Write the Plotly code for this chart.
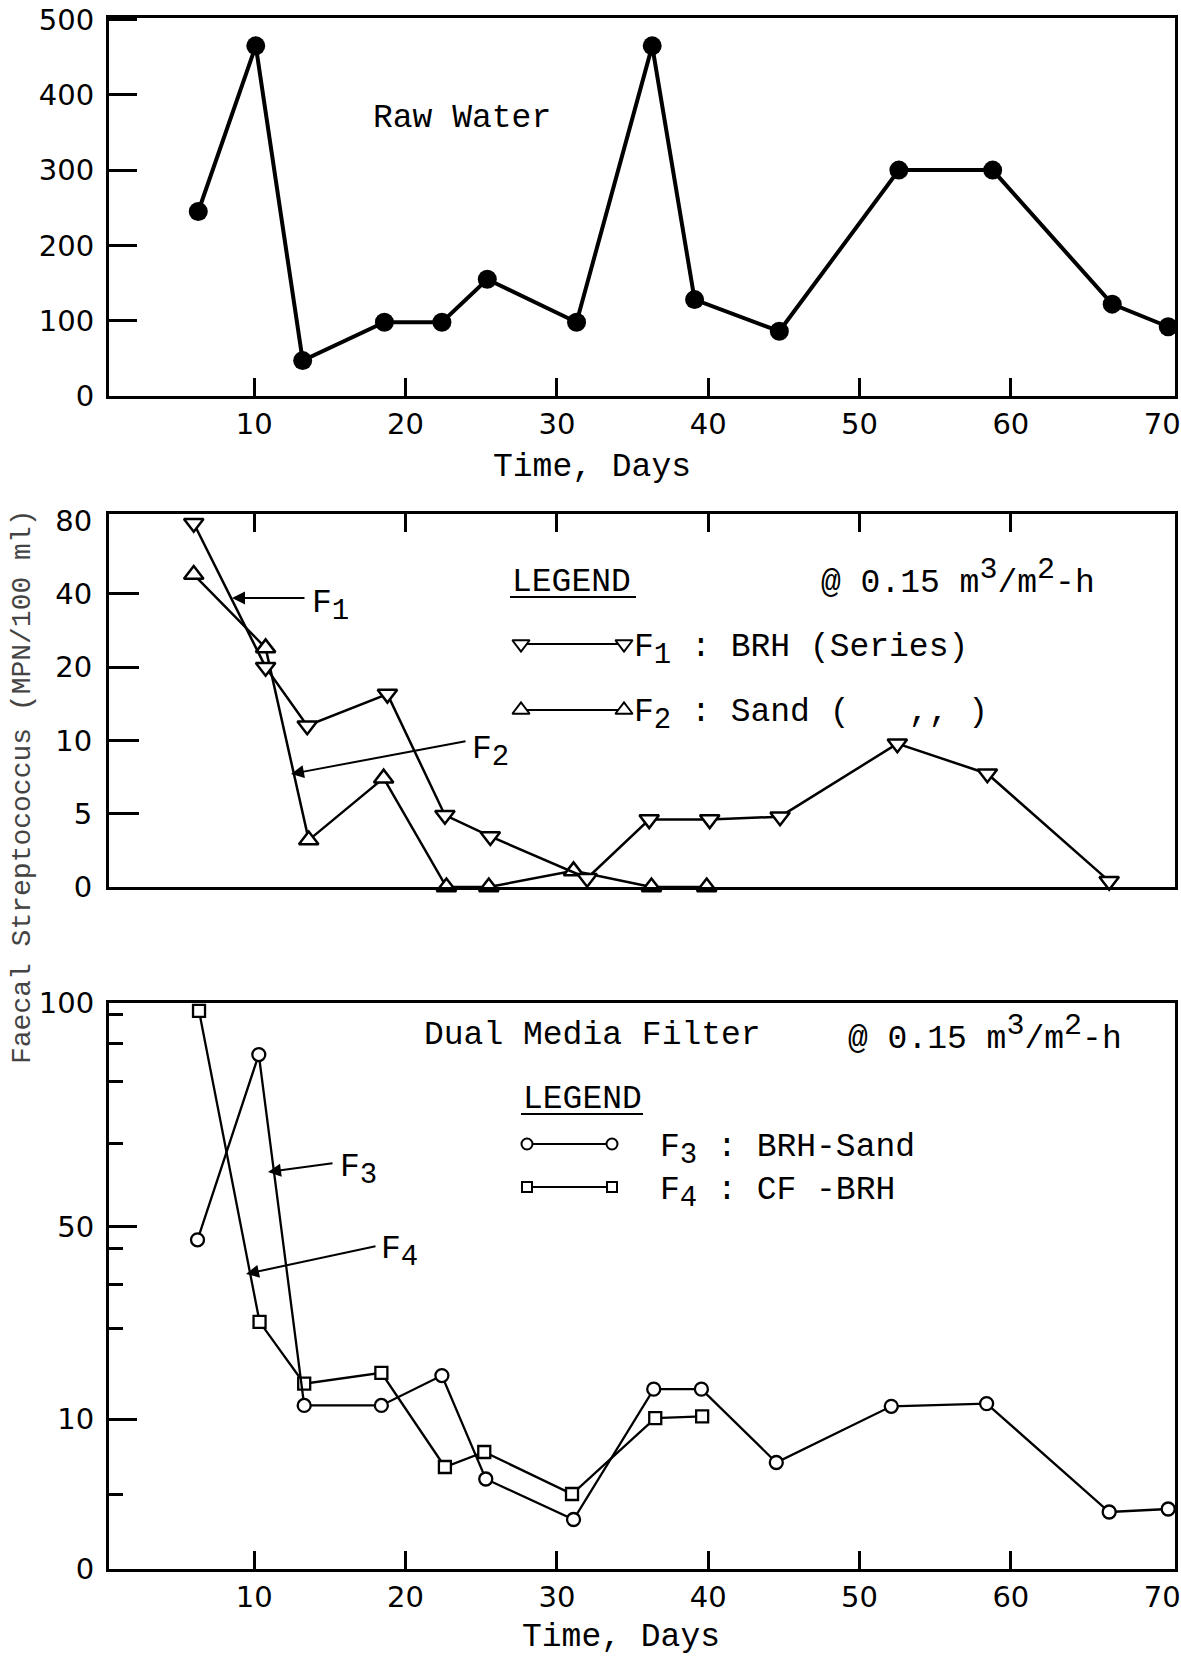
import numpy as np
import plotly.graph_objects as go

# figure fills the whole 1181 x 1657 page (body margin removed by a post script)
PAGE_W, PAGE_H = 1181, 1657
OFF = 0
FW, FH = PAGE_W, PAGE_H

# ---------------- data ----------------
RAW_DAYS = [6.3, 10.1, 13.2, 18.6, 22.4, 25.4, 31.3, 36.3, 39.1, 44.7, 52.6, 58.8, 66.7, 70.4]
RAW_MPN = [245, 465, 47, 98, 98, 155, 98, 465, 128, 86, 300, 300, 122, 92]

F1_DAYS = [6.0, 10.75, 13.5, 18.8, 22.6, 25.6, 32.0, 36.1, 40.1, 44.75, 52.5, 58.45, 66.5]
F1_MPN = [78, 20, 11.5, 15.5, 4.9, 3.45, 0.6, 4.6, 4.6, 4.8, 9.7, 7.3, 0.4]
F2_DAYS = [6.0, 10.75, 13.6, 18.55, 22.7, 25.5, 31.1, 36.25, 39.9]
F2_MPN = [48, 24, 3.2, 7.0, 0, 0, 1.1, 0, 0]

F3_DAYS = [6.25, 10.3, 13.3, 18.4, 22.4, 25.3, 31.1, 36.4, 39.55, 44.5, 52.1, 58.4, 66.5, 70.4]
F3_MPN = [44, 77, 11.5, 11.5, 14.8, 6.0, 3.3, 13.3, 13.3, 7.1, 11.4, 11.7, 3.8, 4.0]
F4_DAYS = [6.35, 10.35, 13.3, 18.4, 22.6, 25.2, 31.0, 36.5, 39.6]
F4_MPN = [93, 21.5, 13.9, 15.1, 6.8, 7.8, 5.0, 10.1, 10.3]

X_TICKS = [10, 20, 30, 40, 50, 60, 70]
X_MARKS = [10, 20, 30, 40, 50, 60]
RAW_TICKS = [0, 100, 200, 300, 400, 500]
MID_TICKS = [0, 5, 10, 20, 40, 80]
MID_MARKS = [5, 10, 20, 40]
BOT_TICKS = [0, 10, 50, 100]
BOT_MINOR = [5, 20, 30, 40, 60, 70, 80, 90]

# ---------------- axis scales of the hand-drawn graph paper ----------------
def mid_scale(v):
    v = np.asarray(v, dtype=float)
    return np.where(v < 5, v / 5.0, 1 + np.log2(np.maximum(v, 5) / 5.0))

BOT_KNOT_VAL = [0, 5, 10, 20, 30, 40, 50, 60, 70, 80, 90, 100]
BOT_KNOT_POS = [0, 0.1325, 0.265, 0.425, 0.503, 0.566, 0.605, 0.751, 0.862, 0.929, 0.98, 1.0]

def bot_scale(v):
    return np.interp(np.asarray(v, dtype=float), BOT_KNOT_VAL, BOT_KNOT_POS)

# ---------------- geometry (page pixels) ----------------
X_L, X_R = 109, 1175
PANELS = {"top": (18, 396), "mid": (514, 887), "bot": (1003, 1569)}
XRANGE = [0.4, 70.85]

def px(x):
    return (x - OFF) / FW

def py(y):
    return 1 - (y - OFF) / FH

def ydom(p):
    t, b = PANELS[p]
    return [py(b), py(t)]

TXT = "Liberation Mono, Courier New, monospace"
TSIZE = 33
TICKF = dict(family="DejaVu Sans, Liberation Sans, sans-serif", size=29, color="black")
BLK = "black"

fig = go.Figure()

# top panel: raw water
fig.add_trace(go.Scatter(x=RAW_DAYS, y=RAW_MPN, mode="lines+markers", xaxis="x", yaxis="y",
                         line=dict(color=BLK, width=4),
                         marker=dict(symbol="circle", size=19, color=BLK), cliponaxis=False,
                         showlegend=False))

# middle panel
fig.add_trace(go.Scatter(x=F2_DAYS, y=mid_scale(F2_MPN), mode="lines+markers", xaxis="x2", yaxis="y2",
                         line=dict(color=BLK, width=2.5),
                         marker=dict(symbol="triangle-up", size=17, color="white",
                                     line=dict(color=BLK, width=2.5)), cliponaxis=False,
                         showlegend=False))
fig.add_trace(go.Scatter(x=F1_DAYS, y=mid_scale(F1_MPN), mode="lines+markers", xaxis="x2", yaxis="y2",
                         line=dict(color=BLK, width=2.5),
                         marker=dict(symbol="triangle-down", size=17, color="white",
                                     line=dict(color=BLK, width=2.5)), cliponaxis=False,
                         showlegend=False))

# bottom panel
fig.add_trace(go.Scatter(x=F4_DAYS, y=bot_scale(F4_MPN), mode="lines+markers", xaxis="x3", yaxis="y3",
                         line=dict(color=BLK, width=2.3),
                         marker=dict(symbol="square", size=12, color="white",
                                     line=dict(color=BLK, width=2.3)), cliponaxis=False,
                         showlegend=False))
fig.add_trace(go.Scatter(x=F3_DAYS, y=bot_scale(F3_MPN), mode="lines+markers", xaxis="x3", yaxis="y3",
                         line=dict(color=BLK, width=2.3),
                         marker=dict(symbol="circle", size=13, color="white",
                                     line=dict(color=BLK, width=2.3)), cliponaxis=False,
                         showlegend=False))

# legend keys drawn on a page-pixel overlay axis
def key(x0, x1, y, symbol, size):
    fig.add_trace(go.Scatter(x=[x0, x1], y=[y, y], mode="lines+markers", xaxis="x9", yaxis="y9",
                             line=dict(color=BLK, width=2),
                             marker=dict(symbol=symbol, size=size, color="white",
                                         line=dict(color=BLK, width=2)),
                             cliponaxis=False, showlegend=False, hoverinfo="skip"))

key(521, 624, 644, "triangle-down", 15)
key(521, 624, 710, "triangle-up", 15)
key(527, 612, 1144, "circle", 11)
key(527, 612, 1187, "square", 10)

def xax(side="bottom", labels=True):
    return dict(domain=[px(X_L), px(X_R)], range=XRANGE, side=side, automargin=False,
                showline=True, linewidth=3, linecolor=BLK, mirror=True,
                showgrid=False, zeroline=False,
                tickmode="array", tickvals=X_TICKS, ticktext=[str(v) for v in X_TICKS],
                ticks="", showticklabels=labels, tickfont=TICKF, ticklabelstandoff=0,
                ticklabeloverflow="allow",
                minor=dict(tickmode="array", tickvals=X_MARKS, ticks="inside", ticklen=18,
                           tickwidth=3, tickcolor=BLK, showgrid=False))

layout = dict(
    width=FW, height=FH, margin=dict(l=0, r=0, t=0, b=0, pad=0, autoexpand=False),
    paper_bgcolor="white", plot_bgcolor="rgba(0,0,0,0)", showlegend=False,
    xaxis=dict(**xax(), anchor="y"),
    yaxis=dict(domain=ydom("top"), range=[0, 502], anchor="x", automargin=False,
               showline=True, linewidth=3, linecolor=BLK, mirror=True,
               showgrid=False, zeroline=False,
               tickmode="array", tickvals=RAW_TICKS, ticktext=[str(v) for v in RAW_TICKS],
               ticks="inside", ticklen=28, tickwidth=3, tickcolor=BLK,
               tickfont=TICKF, ticklabelstandoff=6, ticklabeloverflow="allow"),
    xaxis2=dict(**xax(side="top", labels=False), anchor="y2"),
    yaxis2=dict(domain=ydom("mid"), range=[0, 5.09], anchor="x2", automargin=False,
                showline=True, linewidth=3, linecolor=BLK, mirror=True,
                showgrid=False, zeroline=False,
                tickmode="array", tickvals=list(mid_scale(MID_TICKS)),
                ticktext=[str(v) for v in MID_TICKS], ticks="",
                tickfont=TICKF, ticklabelstandoff=8, ticklabeloverflow="allow",
                minor=dict(tickmode="array", tickvals=list(mid_scale(MID_MARKS)), ticks="inside",
                           ticklen=30, tickwidth=3, tickcolor=BLK, showgrid=False)),
    xaxis3=dict(**xax(), anchor="y3"),
    yaxis3=dict(domain=ydom("bot"), range=[0, 1], anchor="x3", automargin=False,
                showline=True, linewidth=3, linecolor=BLK, mirror=True,
                showgrid=False, zeroline=False,
                tickmode="array", tickvals=list(bot_scale(BOT_TICKS)),
                ticktext=[str(v) for v in BOT_TICKS],
                ticks="inside", ticklen=28, tickwidth=3, tickcolor=BLK,
                tickfont=TICKF, ticklabelstandoff=6, ticklabeloverflow="allow",
                minor=dict(tickmode="array", tickvals=list(bot_scale(BOT_MINOR)), ticks="inside",
                           ticklen=14, tickwidth=2.5, tickcolor=BLK, showgrid=False)),
    xaxis9=dict(domain=[0, 1], range=[OFF, OFF + FW], visible=False, anchor="y9", automargin=False),
    yaxis9=dict(domain=[0, 1], range=[OFF + FH, OFF], visible=False, anchor="x9", automargin=False),
)
fig.update_layout(**layout)

anns = []

def text(t, x, y, size=TSIZE, xanchor="center", yanchor="middle", color=BLK, angle=0, family=TXT):
    anns.append(dict(text=t, x=px(x), y=py(y), xref="paper", yref="paper", showarrow=False,
                     xanchor=xanchor, yanchor=yanchor, textangle=angle,
                     font=dict(family=family, size=size, color=color)))

def arrow(hx, hy, tx, ty):
    anns.append(dict(text="", x=px(hx), y=py(hy), xref="paper", yref="paper", showarrow=True,
                     ax=tx - hx, ay=ty - hy, axref="pixel", ayref="pixel",
                     arrowhead=2, arrowsize=1.3, arrowwidth=2, arrowcolor=BLK, standoff=0))

def sup(s):
    return "<sup><span style='font-size:30px'>%s</span></sup>" % s

def sub(s):
    return "<sub><span style='font-size:29px'>%s</span></sub>" % s

RATE = "@ 0.15 m" + sup("3") + "/m" + sup("2") + "-h"

text("30", 590, 11, size=30, yanchor="bottom")
text("Raw Water", 462, 118)
text("Time, Days", 592, 467)
text("Time, Days", 621, 1637)
text("Faecal Streptococcus (MPN/100 ml)", 22, 787, size=28, color="#444444", angle=-90)

# middle panel texts
text("LEGEND", 510, 582, xanchor="left")
text(RATE, 819, 577, xanchor="left")
text("F" + sub("1") + " : BRH (Series)", 632, 650, xanchor="left")
text("F" + sub("2") + " : Sand (   ,, )", 632, 716, xanchor="left")
text("F" + sub("1"), 310, 606, xanchor="left")
text("F" + sub("2"), 470, 752, xanchor="left")
arrow(232, 598, 306, 598)
arrow(291, 774, 467, 741)

# bottom panel texts
text("Dual Media Filter", 422, 1035, xanchor="left")
text(RATE, 846, 1033, xanchor="left")
text("LEGEND", 521, 1099, xanchor="left")
text("F" + sub("3") + " : BRH-Sand", 658, 1150, xanchor="left")
text("F" + sub("4") + " : CF -BRH", 658, 1193, xanchor="left")
text("F" + sub("3"), 338, 1170, xanchor="left")
text("F" + sub("4"), 379, 1252, xanchor="left")
arrow(268, 1172, 334, 1163)
arrow(246, 1274, 377, 1246)

fig.update_layout(annotations=anns)

# underlines of the two LEGEND headings
fig.update_layout(shapes=[
    dict(type="line", xref="paper", yref="paper", x0=px(510), x1=px(636), y0=py(597), y1=py(597),
         line=dict(color=BLK, width=2)),
    dict(type="line", xref="paper", yref="paper", x0=px(521), x1=px(643), y0=py(1114), y1=py(1114),
         line=dict(color=BLK, width=2)),
])

fig.write_html("out.html", config={"displayModeBar": False},
               post_script="document.body.style.margin='0';document.body.style.overflow='hidden';")
